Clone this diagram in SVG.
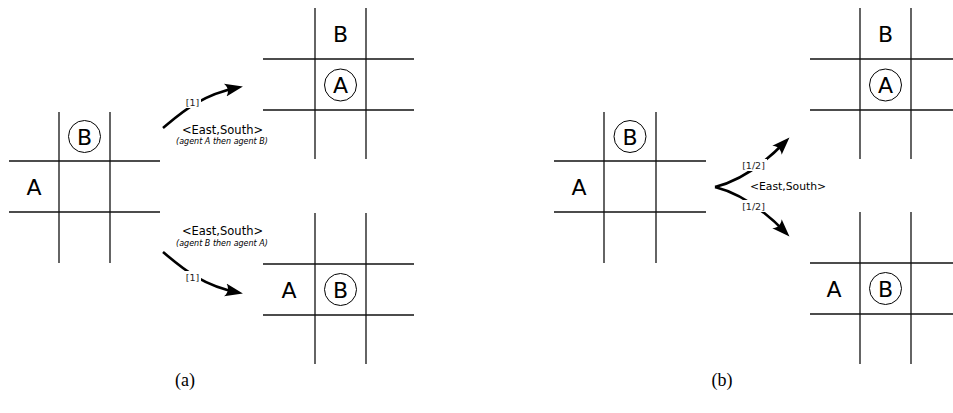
<svg xmlns="http://www.w3.org/2000/svg" width="953" height="413" viewBox="0 0 953 413">
<style>
.g line{stroke:#111;stroke-width:1.3}
.ag{fill:none;stroke:#000;stroke-width:2.6;marker-end:url(#ah)}
.big{font-family:"DejaVu Sans",sans-serif;font-size:22px;text-anchor:middle;fill:#000}
.tok{fill:none;stroke:#000;stroke-width:1}
.lab{font-family:"DejaVu Sans",sans-serif;font-size:11.5px;text-anchor:middle;fill:#000}
.sub{font-family:"DejaVu Sans",sans-serif;font-size:8px;font-style:italic;text-anchor:middle;fill:#000}
.pr{font-family:"DejaVu Sans",sans-serif;font-size:9.5px;text-anchor:middle;fill:#222}
.cap{font-family:"Liberation Serif",serif;font-size:18px;text-anchor:middle;fill:#000}
</style>
<defs>
<marker id="ah" markerUnits="userSpaceOnUse" markerWidth="22" markerHeight="16" refX="13" refY="8" orient="auto" viewBox="0 0 22 16">
<path d="M18,8 L0,1.5 C3.5,5.5 3.5,10.5 0,14.5 Z" fill="#000"/>
</marker>
</defs>
<g id="grid-a-start" class="g">
<line x1="9" y1="161" x2="160" y2="161"/><line x1="9" y1="212" x2="160" y2="212"/>
<line x1="59" y1="112" x2="59" y2="263"/><line x1="110" y1="112" x2="110" y2="263"/>
<circle class="tok" cx="84.5" cy="136.5" r="16"/>
<text class="big" x="84.5" y="144.5">B</text>
<text class="big" x="34" y="194.5">A</text>
</g>
<g id="grid-a-top" class="g">
<line x1="263" y1="59" x2="414" y2="59"/><line x1="263" y1="110" x2="414" y2="110"/>
<line x1="315" y1="8" x2="315" y2="159"/><line x1="366" y1="8" x2="366" y2="159"/>
<text class="big" x="340.5" y="42">B</text>
<circle class="tok" cx="340.5" cy="85" r="16"/>
<text class="big" x="340.5" y="93">A</text>
</g>
<g id="grid-a-bottom" class="g">
<line x1="263" y1="264" x2="414" y2="264"/><line x1="263" y1="315" x2="414" y2="315"/>
<line x1="315" y1="213" x2="315" y2="364"/><line x1="366" y1="213" x2="366" y2="364"/>
<text class="big" x="289" y="297.5">A</text>
<circle class="tok" cx="340.5" cy="289.5" r="16"/>
<text class="big" x="340.5" y="297.5">B</text>
</g>
<g id="grid-b-start" class="g">
<line x1="554" y1="161" x2="706" y2="161"/><line x1="554" y1="212" x2="706" y2="212"/>
<line x1="604" y1="112" x2="604" y2="263"/><line x1="656" y1="112" x2="656" y2="263"/>
<circle class="tok" cx="630" cy="136.5" r="16"/>
<text class="big" x="630" y="144.5">B</text>
<text class="big" x="579" y="194.5">A</text>
</g>
<g id="grid-b-top" class="g">
<line x1="810" y1="59" x2="953" y2="59"/><line x1="810" y1="110" x2="953" y2="110"/>
<line x1="860" y1="8" x2="860" y2="159"/><line x1="911" y1="8" x2="911" y2="159"/>
<text class="big" x="885.5" y="42">B</text>
<circle class="tok" cx="885.5" cy="85" r="16"/>
<text class="big" x="885.5" y="93">A</text>
</g>
<g id="grid-b-bottom" class="g">
<line x1="810" y1="263" x2="953" y2="263"/><line x1="810" y1="314" x2="953" y2="314"/>
<line x1="860" y1="212" x2="860" y2="364"/><line x1="911" y1="212" x2="911" y2="364"/>
<text class="big" x="834" y="296.5">A</text>
<circle class="tok" cx="885.5" cy="288.5" r="16"/>
<text class="big" x="885.5" y="296.5">B</text>
</g>
<g id="connectors">
<path class="ag" d="M163,128 C180,114 200,95 238,87.5"/>
<path class="ag" d="M163,252 C180,266 200,285 238,292.5"/>
<path class="ag" d="M715,187 C735,182 760,168 786,141"/>
<path class="ag" d="M715,187 C735,192 760,206 786,233"/>
<rect x="185" y="96" width="16" height="12" fill="#fff"/>
<text class="pr" x="192.5" y="106">[1]</text>
<rect x="185" y="271" width="16" height="12" fill="#fff"/>
<text class="pr" x="192.5" y="281">[1]</text>
<rect x="740" y="159" width="27" height="12" fill="#fff"/>
<text class="pr" x="753.5" y="169">[1/2]</text>
<rect x="740" y="200" width="27" height="12" fill="#fff"/>
<text class="pr" x="753.5" y="210">[1/2]</text>
<text class="lab" x="222.5" y="134">&lt;East,South&gt;</text>
<text class="sub" x="222" y="143.5">(agent A then agent B)</text>
<text class="lab" x="222.5" y="235">&lt;East,South&gt;</text>
<text class="sub" x="222" y="246">(agent B then agent A)</text>
<text class="lab" x="788" y="190" style="font-size:10.8px">&lt;East,South&gt;</text>
</g>
<text class="cap" x="185" y="386">(a)</text>
<text class="cap" x="722" y="386">(b)</text>
</svg>
